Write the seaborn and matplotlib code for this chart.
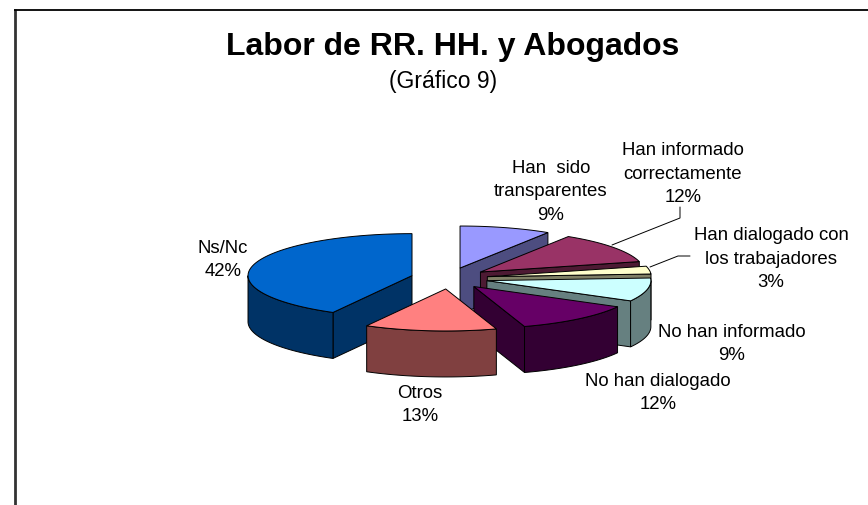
import numpy as np
import pandas as pd
import seaborn as sns
import matplotlib.pyplot as plt
from matplotlib.patches import Polygon

sns.set_theme(style='white')
plt.rcParams['font.family'] = ['Liberation Sans', 'DejaVu Sans']

# clockwise from 12 o'clock
labels = ['Han  sido\ntransparentes', 'Han informado\ncorrectamente', 'Han dialogado con\nlos trabajadores',
          'No han informado', 'No han dialogado', 'Otros', 'Ns/Nc']
values = [9, 12, 3, 9, 12, 13, 42]
top_colors = ['#9999FF', '#993366', '#FFFFCC', '#CCFFFF', '#660066', '#FF8080', '#0066CC']
side_colors = ['#4D4D80', '#4D1A33', '#808066', '#668080', '#330033', '#804040', '#003366']

df = pd.DataFrame({'label': labels, 'value': values, 'top': top_colors, 'side': side_colors})
df['end'] = df['value'].cumsum() / df['value'].sum() * 360
df['start'] = df['end'] - df['value'] / df['value'].sum() * 360

# pie geometry, pixels
cx, cy = 449.3, 279.3
rx, ry = 164, 42
ex, ey = 38.5, 10.7
depth = 46

fig, ax = plt.subplots(figsize=(8.68, 5.06), dpi=100)
ax.set_position([0, 0, 1, 1])
ax.set_xlim(0, 868)
ax.set_ylim(506, 0)
ax.axis('off')


def arc(x0, y0, a, b):
    t = np.radians(np.linspace(a, b, 60))
    return np.column_stack([x0 + rx * np.sin(t), y0 - ry * np.cos(t)])


def poly(pts, color, z):
    ax.add_patch(Polygon(pts, closed=True, facecolor=color, edgecolor='black', linewidth=0.7, zorder=z))


# back to front, Otros sits over Ns/Nc
draw_order = ['Han  sido\ntransparentes', 'Han informado\ncorrectamente', 'Han dialogado con\nlos trabajadores',
              'No han informado', 'No han dialogado', 'Ns/Nc', 'Otros']
for z, name in enumerate(draw_order, start=2):
    row = df[df['label'] == name].iloc[0]
    mid = np.radians((row['start'] + row['end']) / 2)
    x0 = cx + ex * np.sin(mid)
    y0 = cy - ey * np.cos(mid)
    apex = np.array([x0, y0])
    # radial walls that face the viewer
    for a, show in [(row['start'], np.sin(np.radians(row['start'])) < -1e-6),
                    (row['end'], np.sin(np.radians(row['end'])) > 1e-6)]:
        if show:
            p = arc(x0, y0, a, a)[0]
            poly([apex, p, p + [0, depth], apex + [0, depth]], row['side'], z)
    # outer wall, front half only
    a, b = max(row['start'], 90), min(row['end'], 270)
    if b > a:
        edge = arc(x0, y0, a, b)
        poly(np.vstack([edge, (edge + [0, depth])[::-1]]), row['side'], z)
    poly(np.vstack([apex, arc(x0, y0, row['start'], row['end'])]), row['top'], z)

# frame, cut by the right and bottom edges
ax.plot([14.7, 14.7], [506, 10], color='#333333', lw=2.0, zorder=1, solid_capstyle='butt')
ax.plot([13.5, 868], [10.7, 10.7], color='black', lw=1.3, zorder=1, solid_capstyle='butt')

# leader lines
ax.plot([612, 680, 680], [246, 219, 208], color='black', lw=0.7, zorder=20)
ax.plot([650, 678, 690], [268, 257, 257], color='black', lw=0.7, zorder=20)

ax.text(453, 47, 'Labor de RR. HH. y Abogados', fontsize=23, fontweight='bold', ha='center', va='center', color='black')
ax.text(443, 81, '(Gráfico 9)', fontsize=16.5, ha='center', va='center', color='black')

label_pos = [(551, 192), (683, 174), (771, 259), (732, 344), (658, 393), (420, 405), (223, 260)]
for (x, y), name, v in zip(label_pos, labels, values):
    ax.text(x, y, f'{name}\n{v}%', fontsize=13.4, ha='center', va='center', color='black', linespacing=1.47, zorder=21)

plt.savefig('out.png', dpi=100)
plt.close()
